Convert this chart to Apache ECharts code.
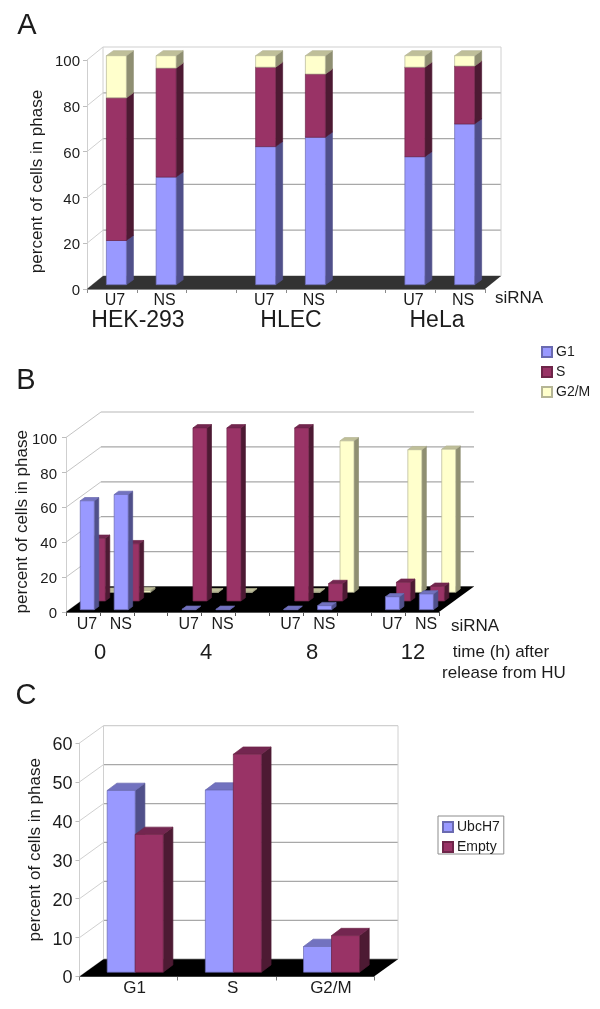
<!DOCTYPE html>
<html><head><meta charset="utf-8">
<style>html,body{margin:0;padding:0;background:#fff}#c{width:600px;height:1009px}</style>
<script src="https://cdn.jsdelivr.net/npm/echarts@6/dist/echarts.min.js"></script>
</head><body><div id="c"></div>
<script>
// ---- data ----
const catsA = ['U7','NS','','U7','NS','','U7','NS'];
const g1A  = [19.3,47,null,60.3,64.4,null,55.9,70.2];
const sA   = [62.3,47.6,null,34.7,27.6,null,39.1,25.3];
const g2A  = [18.4,5.4,null,5,8,null,5,4.5];
const ticksA = [0,20,40,60,80,100];

const catsB = ['U7','NS','','U7','NS','','U7','NS','','U7','NS'];
const g1B  = [62.4,66,null,0.2,0.2,null,0.2,2.3,null,7.4,9];
const sB   = [35.9,32.8,null,99.2,99.2,null,99.2,10,null,10.7,8.4];
const g2B  = [0.6,1,null,0.3,0.3,null,0.3,86.8,null,81.7,82];
const ticksB = [0,20,40,60,80,100];

const catsC = ['G1','S','G2/M'];
const ubcC  = [46.7,46.8,6.6];
const emptyC= [35.4,56,9.4];
const ticksC = [0,10,20,30,40,50,60];

// ---- styles ----
const COL = {
  g1:{f:'#9999ff',s:'#50508a',t:'#7272bf',e:'#6a6ab0'},
  s: {f:'#993366',s:'#4d1a33',t:'#732650',e:'#6e2549'},
  y: {f:'#ffffcc',s:'#8f8f72',t:'#bfbf99',e:'#b5b595'}
};
const FONT='"Liberation Sans",Arial,sans-serif', INK='#1c1c1c';

function frameSeries(idx, depth, o){
  return {type:'custom',xAxisIndex:idx,yAxisIndex:idx,silent:true,z:1,data:o.ticks.map(v=>[0,v]),
    renderItem(p,api){
      const cs=p.coordSys, y=api.coord([0,api.value(1)])[1];
      const x0=cs.x, x1=cs.x+cs.width, bx=x0+depth.x, bxr=x1+depth.x, by=y-depth.y;
      const top=api.value(1)===o.ticks[o.ticks.length-1];
      const ch=[
        {type:'line',shape:{x1:x0,y1:y,x2:bx,y2:by},style:{stroke:o.side,lineWidth:1}},
        {type:'line',shape:{x1:bx,y1:by,x2:bxr,y2:by},style:{stroke:top?o.topC:o.grid,lineWidth:o.gw||1}}
      ];
      if(top&&o.walls){
        const by0=cs.y+cs.height-depth.y;
        ch.push({type:'line',shape:{x1:bx,y1:by,x2:bx,y2:by0},style:{stroke:o.topC,lineWidth:1}});
        ch.push({type:'line',shape:{x1:bxr,y1:by,x2:bxr,y2:by0},style:{stroke:o.topC,lineWidth:1}});
      }
      return {type:'group',children:ch};
    }};
}
function floorSeries(idx, depth, color){
  return {type:'custom',xAxisIndex:idx,yAxisIndex:idx,silent:true,z:2,data:[[0,0]],
    renderItem(p,api){
      const cs=p.coordSys, y=cs.y+cs.height, x0=cs.x, x1=cs.x+cs.width;
      return {type:'polygon',shape:{points:[[x0,y],[x1,y],[x1+depth.x,y-depth.y],[x0+depth.x,y-depth.y]]},style:{fill:color}};
    }};
}
function barSeries(name, idx, rows, c, geo, z){
  return {name,type:'custom',xAxisIndex:idx,yAxisIndex:idx,silent:true,z,
    itemStyle:{color:c.f,borderColor:c.e,borderWidth:1},
    data:rows,
    encode:{x:0,y:[1,2]},
    renderItem(p,api){
      const a=api.coord([api.value(0),api.value(1)]), b=api.coord([api.value(0),api.value(2)]);
      const x0=a[0]+geo.sx-geo.w/2, x1=x0+geo.w, yb=a[1]-geo.sy, yt=b[1]-geo.sy, dx=geo.dx, dy=geo.dy;
      const lw=0.7;
      return {type:'group',children:[
        {type:'polygon',shape:{points:[[x1,yb],[x1+dx,yb-dy],[x1+dx,yt-dy],[x1,yt]]},style:{fill:c.s,stroke:c.s,lineWidth:lw}},
        {type:'polygon',shape:{points:[[x0,yt],[x0+dx,yt-dy],[x1+dx,yt-dy],[x1,yt]]},style:{fill:c.t,stroke:c.e,lineWidth:lw}},
        {type:'rect',shape:{x:x0,y:yt,width:geo.w,height:yb-yt},style:{fill:c.f,stroke:c.e,lineWidth:lw}}
      ]};
    }};
}
const rows=(vals)=>vals.map((v,i)=>v==null?null:[i,0,v]).filter(Boolean);
function stacked(...arrs){
  const base=arrs[0].map(()=>0);
  return arrs.map(a=>{
    const r=[];
    a.forEach((v,i)=>{ if(v!=null){ r.push([i,base[i],base[i]+v]); base[i]+=v; }});
    return r;
  });
}
const [rA1,rA2,rA3]=stacked(g1A,sA,g2A);

const depthA={x:16,y:13}, depthB={x:35,y:25.5}, depthC={x:24,y:17.3};
const geoA={w:20,sx:4.5,sy:4.3,dx:7,dy:5};
const geoB=s=>({w:14,sx:s.x,sy:s.y,dx:4.5,dy:3.3});
const geoC=sx=>({w:28,sx,sy:4.3,dx:9.7,dy:7.3});

function xAx(i,data,fs,pad,lineC,margin){
  return {type:'category',gridIndex:i,data,
    axisLine:{show:true,lineStyle:{color:lineC,width:1}},
    axisTick:{show:true,length:4,lineStyle:{color:lineC}},
    axisLabel:{interval:0,color:INK,fontFamily:FONT,fontSize:fs,margin,padding:[0,0,0,pad]}};
}
function yAx(i,max,step,fs,margin,gap,pad){
  return {type:'value',gridIndex:i,min:0,max,interval:step,
    name:'percent of cells in phase',nameLocation:'middle',nameGap:gap,nameRotate:90,nameMoveOverlap:false,
    nameTextStyle:{color:INK,fontFamily:FONT,fontSize:17,padding:pad},
    axisLine:{show:true,lineStyle:{color:'#cfcfcf'}},
    axisTick:{show:true,length:4,lineStyle:{color:'#bdbdbd'}},
    splitLine:{show:false},
    axisLabel:{margin,formatter:'{n|{value}}',rich:{n:{color:INK,fontFamily:FONT,fontSize:fs,padding:[4,0,0,0]}}}};
}
const txt=(t,x,y,fs,align)=>({type:'text',x,y,silent:true,style:{text:t,fill:INK,fontFamily:FONT,fontSize:fs,textAlign:align||'center',textVerticalAlign:'middle'}});

const option={
  animation:false,backgroundColor:'#fff',
  grid:[
    {left:87,top:60,width:398,height:229,outerBoundsMode:'none'},
    {left:66,top:437.5,width:373,height:174.5,outerBoundsMode:'none'},
    {left:79.5,top:743,width:294.5,height:233.5,outerBoundsMode:'none'}
  ],
  xAxis:[xAx(0,catsA,16,6,'#8a8a8a',4),xAx(1,catsB,16,8,'#555',5),xAx(2,catsC,17,12,'#777',3)],
  yAxis:[yAx(0,100,20,15,7,41.5,[0,14,0,0]),yAx(1,100,20,15,9,35.5,[0,0,0,6]),yAx(2,60,10,18,7,36,[0,0,0,20])],
  legend:[
    {data:['G1','S','G2/M'],icon:'rect',orient:'vertical',left:541,top:345,itemWidth:10,itemHeight:10,itemGap:6,selectedMode:false,padding:0,
     textStyle:{color:INK,fontFamily:FONT,fontSize:14,padding:[0,0,0,-1]}},
    {data:['UbcH7','Empty'],icon:'rect',orient:'vertical',left:438,top:816,itemWidth:10,itemHeight:10,itemGap:6,selectedMode:false,
     padding:[4,4,0,4],borderColor:'#8c8c8c',borderWidth:1,
     textStyle:{color:INK,fontFamily:FONT,fontSize:14,padding:[0,0,0,-1]}}
  ],
  series:[
    frameSeries(0,depthA,{ticks:ticksA,side:'#d0d0d0',grid:'#a8a8a8',topC:'#d0d0d0',walls:true,gw:1.2}),
    floorSeries(0,depthA,'#333333'),
    barSeries('G1',0,rA1,COL.g1,geoA,3),
    barSeries('S',0,rA2,COL.s,geoA,4),
    barSeries('G2/M',0,rA3,COL.y,geoA,5),

    frameSeries(1,depthB,{ticks:ticksB,side:'#c4c4c4',grid:'#a8a8a8',topC:'#b8b8b8',walls:false,gw:1.2}),
    floorSeries(1,depthB,'#000000'),
    barSeries('G2/M',1,rows(g2B),COL.y,geoB({x:26.7,y:19.7}),3),
    barSeries('S',1,rows(sB),COL.s,geoB({x:15.3,y:11}),4),
    barSeries('G1',1,rows(g1B),COL.g1,geoB({x:4.3,y:2.3}),5),

    frameSeries(2,depthC,{ticks:ticksC,side:'#d0d0d0',grid:'#a8a8a8',topC:'#d0d0d0',walls:true,gw:1.2}),
    floorSeries(2,depthC,'#000000'),
    barSeries('UbcH7',2,rows(ubcC),COL.g1,geoC(6.6-14),3),
    barSeries('Empty',2,rows(emptyC),COL.s,geoC(6.6+14),4)
  ],
  graphic:[
    txt('A',27,26,29),txt('B',26,381,29),txt('C',26,696,29),
    txt('HEK-293',138,321,23),txt('HLEC',291,321,23),txt('HeLa',437,321,23),
    txt('siRNA',519,298,17),
    txt('0',100,653,22),txt('4',206,653,22),txt('8',312,653,22),txt('12',413,653,22),
    txt('siRNA',475,626,17),
    txt('time (h) after',501,652,17),txt('release from HU',504,673,17)
  ]
};
const chart=echarts.init(document.getElementById('c'),null,{renderer:'canvas'});
chart.setOption(option);
</script></body></html>
